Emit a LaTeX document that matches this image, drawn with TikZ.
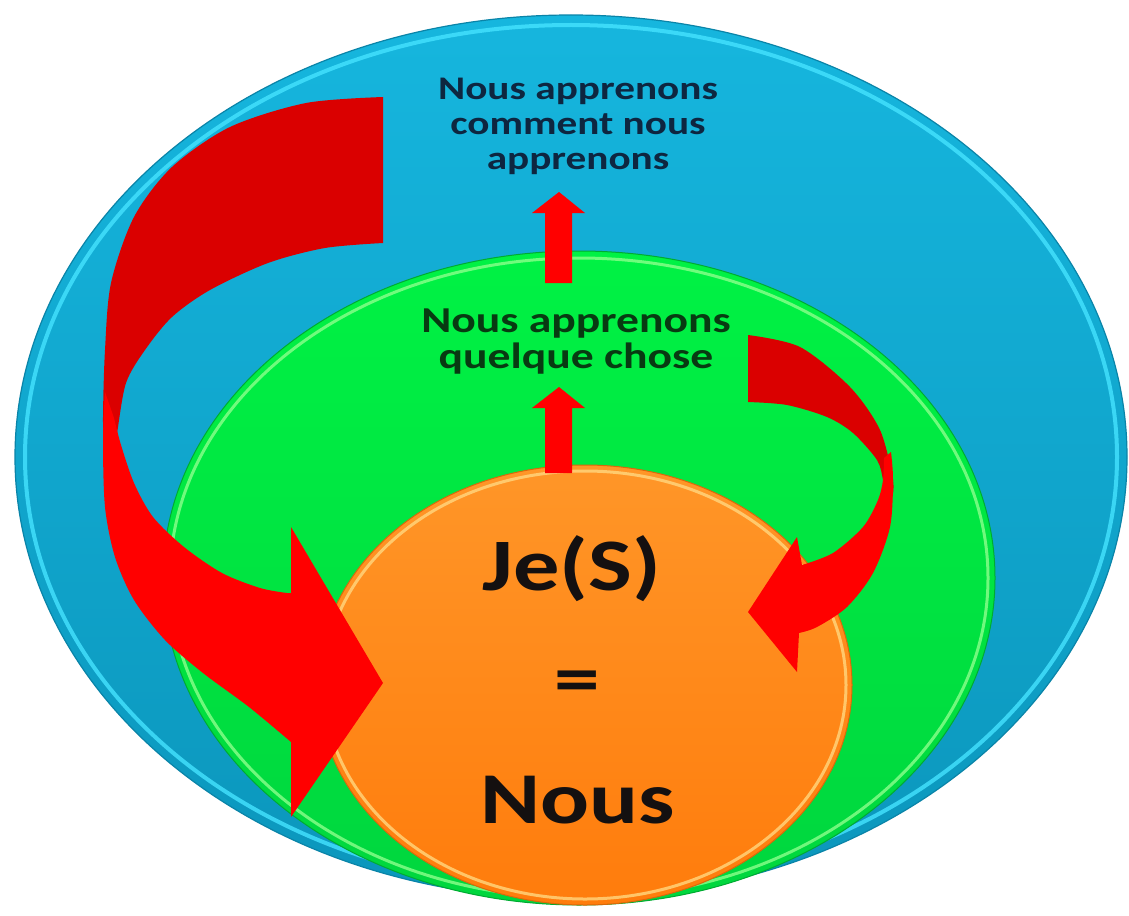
\documentclass[tikz,border=0pt]{standalone}
\usepackage{fontspec}
\setmainfont{Carlito}
\usepackage{graphicx}
\definecolor{bluetop}{HTML}{16B6DE}
\definecolor{bluebot}{HTML}{0B96BC}
\definecolor{bluerim}{HTML}{45E3FF}
\definecolor{blueedge}{HTML}{0A84A8}
\definecolor{greentop}{HTML}{00F244}
\definecolor{greenbot}{HTML}{00D63E}
\definecolor{greenrim}{HTML}{8CFF8C}
\definecolor{orangetop}{HTML}{FF9628}
\definecolor{orangebot}{HTML}{FF7C0C}
\definecolor{orangerim}{HTML}{FFD77F}
\definecolor{arrowred}{HTML}{FF0000}
\definecolor{arrowdark}{HTML}{DA0000}
\definecolor{navytext}{HTML}{0E2640}
\definecolor{greentext}{HTML}{083A12}
\definecolor{blacktext}{HTML}{141010}
\newcommand{\widetext}[1]{\scalebox{1.25}[1]{\begin{tabular}[t]{@{}c@{}}#1\end{tabular}}}
\tikzset{
  redfront/.style={fill=arrowred},
  redback/.style={fill=arrowdark},
  txt/.style={inner sep=0pt, anchor=base},
  rim/.style={line width=3pt, opacity=0.8},
}
\begin{document}
\begin{tikzpicture}[x=1pt,y=-1pt]
\useasboundingbox (0,0) rectangle (1129,915);
\fill[white] (0,0) rectangle (1129,915);
% outer blue ellipse
\coordinate (cb) at (571,457);
\shade[top color=bluetop, bottom color=bluebot, draw=blueedge, line width=1.2pt]
  (cb) ellipse [x radius=556pt, y radius=442pt];
\draw[bluerim, rim, line width=4pt] (cb) ellipse [x radius=546pt, y radius=432pt];
% green ellipse
\coordinate (cg) at (579,578);
\shade[top color=greentop, bottom color=greenbot, draw=greenbot!80!black, line width=1pt]
  (cg) ellipse [x radius=416pt, y radius=327pt];
\draw[greenrim, rim] (cg) ellipse [x radius=409pt, y radius=320pt];
% orange circle
\coordinate (co) at (585,685);
\shade[top color=orangetop, bottom color=orangebot, draw=orangebot!85!black, line width=1pt]
  (co) ellipse [x radius=267pt, y radius=220pt];
\draw[orangerim, rim] (co) ellipse [x radius=261pt, y radius=214pt];

% big left curved arrow: back band
\fill[redback] (383,97) -- plot[smooth] coordinates {(383,97) (306,103) (230,127) (172,167) (134,217) (111,283) (105,350) (103,417) (104,460)}
  -- plot[smooth] coordinates {(112,458) (117,433) (126,383) (145,350) (172,317) (210,290) (268,263) (325,248) (383,243)} -- cycle;
% big left curved arrow: front band with head
\fill[redfront] (105,392) -- plot[smooth] coordinates {(105,392) (103,440) (105,507) (115,557) (134,600) (165,640) (203,673) (249,707) (291,742)}
  -- (291,817) -- (383,683) -- (291,527) -- (291,593)
  -- plot[smooth] coordinates {(287,593) (260,588) (222,573) (184,547) (153,517) (134,483) (121,445) (114,418)} -- cycle;

% right curved arrow: back band
\fill[redback] (748,335) -- plot[smooth] coordinates {(748,335) (800,347) (850,387) (880,430) (893,480) (892,498)}
  -- plot[smooth] coordinates {(886,498) (883,480) (877,460) (853,433) (827,417) (787,405) (748,402)} -- cycle;
% right curved arrow: front band with head
\fill[redfront] (891,452) -- plot[smooth] coordinates {(891,452) (893,480) (890,527) (873,573) (847,607) (817,627) (799,633)}
  -- (797,672) -- (748,612) -- (797,537) -- (802,565)
  -- plot[smooth] coordinates {(802,565) (833,553) (863,527) (878,500) (883,480) (884,458)} -- cycle;

% straight up arrows
\coordinate (upA) at (559,192);
\coordinate (upB) at (559,387);
\fill[redfront] (545,283) -- (545,213) -- (532,213) -- (upA) -- (585,213) -- (572,213) -- (572,283) -- cycle;
\fill[redfront] (545,473) -- (545,408) -- (532,408) -- (upB) -- (585,408) -- (572,408) -- (572,473) -- cycle;

% texts
\node[txt, text=navytext, font=\bfseries\fontsize{33}{35}\selectfont] (t1) at (578,100)
  {\widetext{Nous apprenons\\comment nous\\apprenons}};
\node[txt, text=greentext, font=\bfseries\fontsize{36.5}{35}\selectfont] (t2) at (576,332)
  {\widetext{Nous apprenons\\quelque chose}};
\node[txt, text=blacktext, font=\bfseries\fontsize{74}{80}\selectfont] (je) at (572,590)
  {\scalebox{1.25}[1]{Je(S)}};
\node[inner sep=0pt, text=blacktext, font=\bfseries\fontsize{73}{80}\selectfont] (eq) at (577,687)
  {\scalebox{1.25}[1]{=}};
\node[txt, text=blacktext, font=\bfseries\fontsize{73}{80}\selectfont] (nous) at (578,823)
  {\scalebox{1.25}[1]{Nous}};
\end{tikzpicture}
\end{document}
